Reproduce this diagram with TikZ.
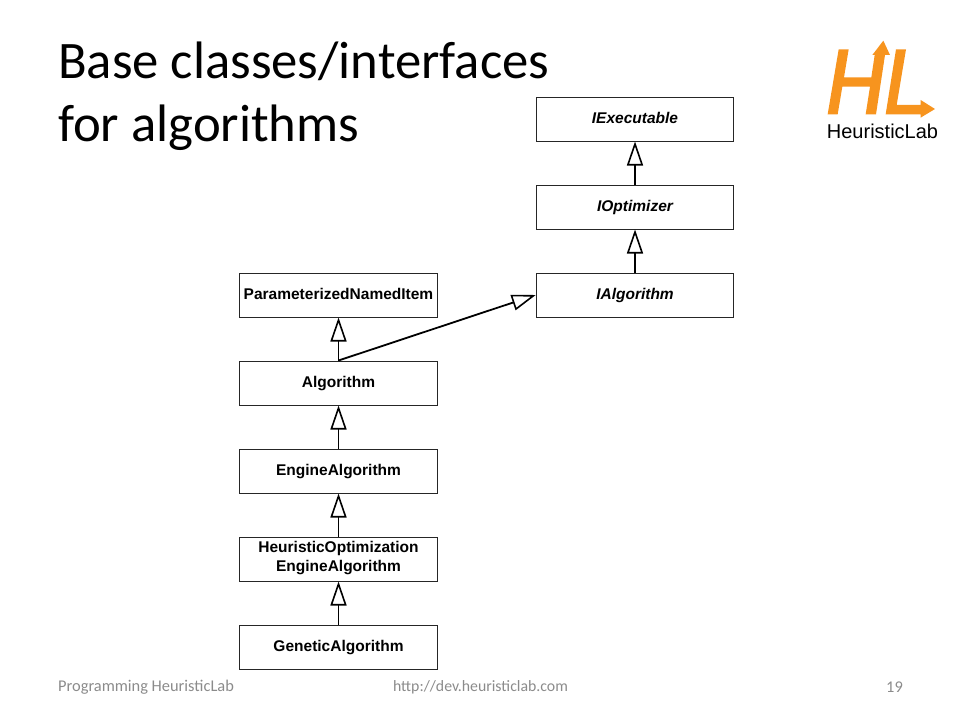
\documentclass[tikz,border=0pt]{standalone}
\usepackage{fontspec}
\setmainfont{Liberation Sans}
\newfontfamily\titlefont{Carlito}
\usetikzlibrary{arrows.meta,positioning,calc}
\definecolor{LogoOrange}{HTML}{F7941E}
\definecolor{FootGray}{HTML}{8B8B8B}
\newcommand{\boxstrut}{\rule[-4.7pt]{0pt}{19pt}}
\tikzset{
  classbox/.style={draw=black!85,line width=1pt,fill=white,minimum width=197.5pt,minimum height=44pt,
    inner sep=0pt,align=center,execute at begin node=\boxstrut,execute at end node=\boxstrut,
    font=\fontsize{15.5}{19}\selectfont\bfseries},
  ifacebox/.style={classbox,font=\fontsize{15.5}{19}\selectfont\bfseries\itshape},
  inherits/.style={-{Triangle[open,fill=white,length=24pt,width=16pt,line width=1.6pt]},line width=1.8pt,black},
  footer/.style={text=FootGray,font=\titlefont\fontsize{16.4}{18}\selectfont,inner sep=0pt}
}

\begin{document}
\begin{tikzpicture}[x=1pt,y=-1pt]
  \useasboundingbox (0,0) rectangle (960,720);
  % title
  \node[anchor=north west,inner sep=0pt,align=left,font=\titlefont\fontsize{52.7}{63}\selectfont] (title) at (58,42)
    {Base classes/interfaces\\for algorithms};
  % right column
  \node[ifacebox] (executable) at (635,119) {IExecutable};
  \node[ifacebox,below=43pt of executable] (optimizer) {IOptimizer};
  \node[ifacebox,below=43pt of optimizer] (ialgorithm) {IAlgorithm};
  % left column
  \node[classbox] (paramitem) at (338.5,295) {ParameterizedNamedItem};
  \node[classbox,below=43pt of paramitem] (algorithm) {Algorithm};
  \node[classbox,below=43pt of algorithm] (engine) {EngineAlgorithm};
  \node[classbox,below=43pt of engine] (heuristic) {HeuristicOptimization\\EngineAlgorithm};
  \node[classbox,below=43pt of heuristic] (genetic) {GeneticAlgorithm};
  % inheritance
  \draw[inherits] (optimizer) -- (executable);
  \draw[inherits] (ialgorithm) -- (optimizer);
  \draw[inherits] (algorithm) -- (paramitem);
  \draw[inherits] (algorithm.north) -- (ialgorithm.west);
  \draw[inherits] (engine) -- (algorithm);
  \draw[inherits] (heuristic) -- (engine);
  \draw[inherits] (genetic) -- (heuristic);
  % logo
  \begin{scope}[shift={(800,20)},x=.3333pt,y=-.3333pt]
    \fill[LogoOrange] (83,283)--(116,88)--(146,88)--(132,172)--(214,172)--(224,105)--(217,105)--(250,62)
      --(270,105)--(255,105)--(228,283)--(197,283)--(210,200)--(127,200)--(113,283)--cycle;
    \fill[LogoOrange] (288,88)--(318,88)--(290,255)--(362,255)--(362,240)--(405,267)--(362,293)--(362,283)--(257,283)--cycle;
  \end{scope}
  \node[font=\fontsize{20}{22}\selectfont,inner sep=0pt] (logotext) at (882.5,131) {HeuristicLab};
  % footer
  \node[footer,anchor=west] (footleft) at (58,687) {Programming HeuristicLab};
  \node[footer,font=\titlefont\fontsize{15.8}{18}\selectfont] (footmid) at (480.5,687) {http://dev.heuristiclab.com};
  \node[footer,anchor=east] (footpage) at (903,687) {19};
\end{tikzpicture}
\end{document}
